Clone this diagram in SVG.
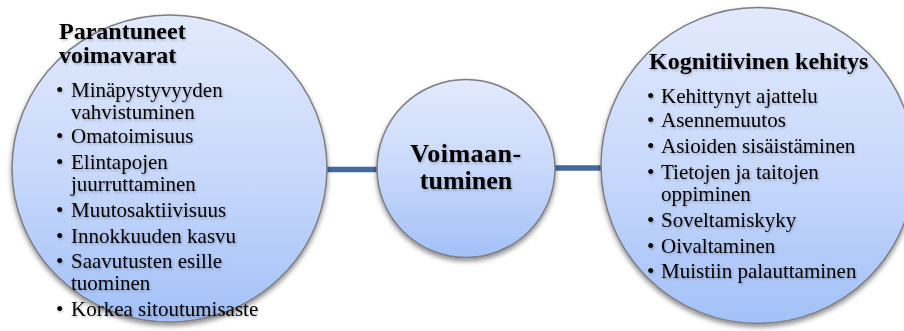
<svg xmlns="http://www.w3.org/2000/svg" width="904" height="331" viewBox="0 0 904 331">
  <defs>
    <linearGradient id="bubbleFill" x1="0" y1="0" x2="0" y2="1">
      <stop offset="0" stop-color="#e2eafc"/>
      <stop offset="0.5" stop-color="#c9d9fb"/>
      <stop offset="1" stop-color="#a3c1f8"/>
    </linearGradient>
    <filter id="bubbleShadow" x="-10%" y="-10%" width="120%" height="125%">
      <feDropShadow dx="0" dy="3" stdDeviation="2.5" flood-color="#000" flood-opacity="0.45"/>
    </filter>
    <filter id="textShadow" x="-5%" y="-30%" width="110%" height="160%">
      <feDropShadow dx="1" dy="1.5" stdDeviation="1.2" flood-color="#000" flood-opacity="0.25"/>
    </filter>
  </defs>
  <style>
    .bubble { fill: url(#bubbleFill); stroke: #7d7d82; stroke-width: 1.5; filter: url(#bubbleShadow); }
    .link { stroke: #44699b; stroke-width: 5.5; fill: none; }
    text { font-family: "Liberation Serif", "Times New Roman", serif; fill: #000; }
    .title { font-size: 24px; font-weight: bold; }
    .center { font-size: 26px; font-weight: bold; text-anchor: middle; }
    .item { font-size: 21px; }
    .txt { filter: url(#textShadow); }
  </style>

  <!-- connectors between the circles -->
  <g id="connectors">
    <line class="link" x1="320" y1="169.5" x2="384" y2="169.5"/>
    <line class="link" x1="548" y1="168" x2="608" y2="168"/>
  </g>

  <!-- left circle: improved resources -->
  <g id="node-voimavarat">
    <ellipse class="bubble" cx="169.5" cy="168.5" rx="157.5" ry="153.5"/>
    <g class="txt">
      <text class="title" x="59" y="39">Parantuneet</text>
      <text class="title" x="59" y="63">voimavarat</text>
      <g class="item">
        <text x="56" y="97">•</text><text x="71" y="97">Minäpystyvyyden</text>
        <text x="71" y="119">vahvistuminen</text>
        <text x="56" y="143">•</text><text x="71" y="143">Omatoimisuus</text>
        <text x="56" y="169">•</text><text x="71" y="169">Elintapojen</text>
        <text x="71" y="191">juurruttaminen</text>
        <text x="56" y="217">•</text><text x="71" y="217">Muutosaktiivisuus</text>
        <text x="56" y="243">•</text><text x="71" y="243">Innokkuuden kasvu</text>
        <text x="56" y="268">•</text><text x="71" y="268">Saavutusten esille</text>
        <text x="71" y="290">tuominen</text>
        <text x="56" y="316">•</text><text x="71" y="316">Korkea sitoutumisaste</text>
      </g>
    </g>
  </g>

  <!-- centre circle: empowerment -->
  <g id="node-voimaantuminen">
    <circle class="bubble" cx="466" cy="168.5" r="89"/>
    <g class="txt">
      <text class="center" x="466" y="162" letter-spacing="0.5">Voimaan-</text>
      <text class="center" x="466" y="189">tuminen</text>
    </g>
  </g>

  <!-- right circle: cognitive development -->
  <g id="node-kognitiivinen">
    <ellipse class="bubble" cx="758" cy="165.5" rx="157" ry="158"/>
    <g class="txt">
      <text class="title" x="649" y="69">Kognitiivinen kehitys</text>
      <g class="item">
        <text x="647" y="103">•</text><text x="661" y="103">Kehittynyt ajattelu</text>
        <text x="647" y="127">•</text><text x="661" y="127">Asennemuutos</text>
        <text x="647" y="153">•</text><text x="661" y="153">Asioiden sisäistäminen</text>
        <text x="647" y="179">•</text><text x="661" y="179">Tietojen ja taitojen</text>
        <text x="661" y="201">oppiminen</text>
        <text x="647" y="227">•</text><text x="661" y="227">Soveltamiskyky</text>
        <text x="647" y="253">•</text><text x="661" y="253">Oivaltaminen</text>
        <text x="647" y="278">•</text><text x="661" y="278">Muistiin palauttaminen</text>
      </g>
    </g>
  </g>
</svg>
